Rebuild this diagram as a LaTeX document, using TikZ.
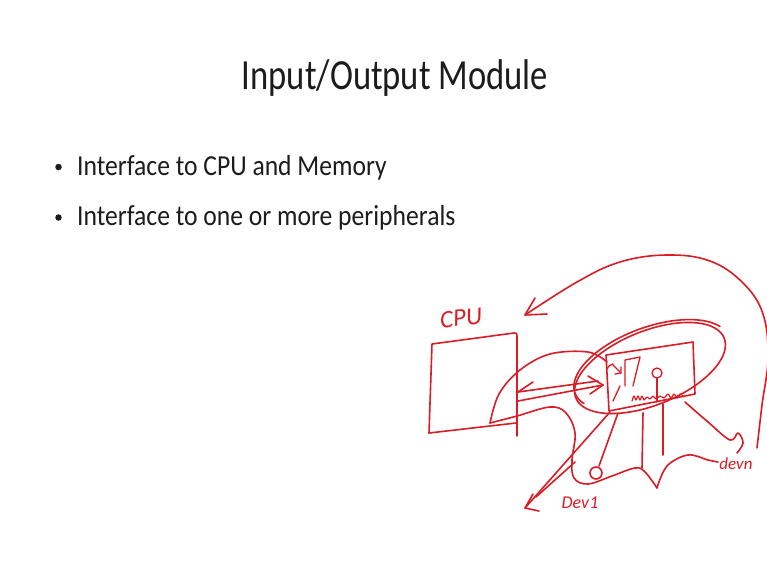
\documentclass[tikz,border=0pt]{standalone}
\usepackage{fontspec}
\setmainfont{Carlito}
\usepackage{graphicx}
\definecolor{inkred}{RGB}{218,28,38}
\definecolor{textgray}{RGB}{28,28,28}
\begin{document}
\begin{tikzpicture}[x=1pt,y=-1pt,
  pen/.style={draw=inkred, line width=1.6pt, line cap=round, line join=round},
  slidetext/.style={text=textgray, inner sep=0pt, anchor=base west},
  bulletdot/.style={fill=textgray, circle, inner sep=0pt, minimum size=6.5pt},
  hand/.style={text=inkred, inner sep=0pt, font=\itshape}]
\useasboundingbox (0,0) rectangle (767,576);
\fill[white] (0,0) rectangle (767,576);
\clip (0,0) rectangle (767,576);

% ---------- slide text ----------
\node[slidetext] (title) at (241.7,89.3) {\fontsize{43}{48}\selectfont\scalebox{0.805}[1]{Input/Output Module}};
\node[bulletdot] (d1) at (58.5,167) {};
\node[slidetext] (b1) at (77,175.3) {\fontsize{29}{34}\selectfont\scalebox{0.883}[1]{Interface to CPU and Memory}};
\node[bulletdot] (d2) at (58.5,217.5) {};
\node[slidetext] (b2) at (77,225.8) {\fontsize{29}{34}\selectfont\scalebox{0.883}[1]{Interface to one or more peripherals}};

% ---------- CPU ----------
\node[hand, rotate=6] (cpulabel) at (461,318) {\fontsize{25}{28}\selectfont CPU};
\coordinate (cpuTL) at (432,344);
\coordinate (cpuTR) at (514,333);
\coordinate (cpuBR) at (517,436);
\coordinate (cpuBL) at (429,433);
\draw[pen] (cpuBL) -- (cpuTL) -- (cpuTR) .. controls (517,333) .. (517,340) -- (cpuBR);
\draw[pen] (cpuBL) -- (516,423);

% ---------- module (ellipse + box) ----------
\draw[pen] plot[domain=0:360, samples=72, smooth]
  ({650+80*cos(\x)*cos(22)-37*sin(\x)*sin(22)}, {368-80*cos(\x)*sin(22)-37*sin(\x)*cos(22)});
\draw[pen] plot[domain=20:200, samples=40, smooth]
  ({652+82*cos(\x)*cos(20)-38*sin(\x)*sin(20)}, {365-82*cos(\x)*sin(20)-38*sin(\x)*cos(20)});
\coordinate (modTL) at (606,355);
\coordinate (modTR) at (693,342);
\coordinate (modBR) at (695,394);
\coordinate (modBL) at (609,411);
\draw[pen] (modBL) -- (modTL) -- (modTR) -- (modBR) -- (modBL);

% scribbles inside the module
\draw[pen, line width=1.3pt] (607,369) .. controls (609,364) and (611,366) .. (613,364);
\draw[pen, line width=1.3pt] (612,364) -- (621,373);
\draw[pen, line width=1.3pt] (615,374) -- (621,373) -- (621,367);
\draw[pen, line width=1.3pt] (625,386) -- (625,360) -- (640,357) -- (633,386);
\draw[pen, line width=1.3pt] (620,386) -- (613,401);
\draw[pen, line width=1.3pt] (657,373) circle (5);
\draw[pen, line width=1.3pt] (657,378) -- (657,402);
\draw[pen, line width=1.2pt] plot[smooth, tension=0.6] coordinates
  {(632,401) (634,396) (636,400) (638,396) (640,400) (642,396) (644,400) (647,397) (650,399) (653,396) (656,399) (660,396) (664,398) (668,394) (671,398) (674,394) (677,398) (680,394) (684,397)};

% ---------- CPU <-> module arrows ----------
\coordinate (aL) at (518,392);
\coordinate (aR) at (598,381);
\draw[pen] (aL) -- (aR);
\draw[pen] (aL) -- (533,382);
\coordinate (bL) at (518,401);
\coordinate (bR) at (603,385);
\draw[pen] (bL) -- (bR);
\draw[pen] (588,376) -- (bR) -- (590,394);

% loop from CPU to module
\draw[pen] plot[smooth, tension=0.6] coordinates
  {(490,423) (499,394) (520,370) (550,354) (588,352) (607,362)};

% ---------- big return arrow ----------
\coordinate (arcTip) at (525,315);
\draw[pen] plot[smooth, tension=0.65] coordinates
  {(757,448) (762,405) (768,358) (763,314) (743,283) (710,261) (667,255) (620,262) (577,282) (525,315)};
\draw[pen] (535,298) -- (arcTip) -- (547,314);

% ---------- peripherals bag ----------
\draw[pen] plot[smooth, tension=0.6] coordinates
  {(490,423) (517,416) (550,407) (566,413) (575,433) (572,460) (574,478) (588,484) (612,476) (635,468) (645,472) (657,488)};
\draw[pen] plot[smooth, tension=0.6] coordinates
  {(657,488) (667,466) (688,455) (708,460) (718,462)};

% lines down from the module
\coordinate (outTip) at (525,508);
\draw[pen] (610,412) -- (outTip);
\draw[pen] (533,494) -- (outTip) -- (539,511);
\draw[pen] (575,462) -- (536,497);
\coordinate (dev1) at (596,473);
\draw[pen] (618,413) -- (599,466);
\draw[pen] (dev1) circle (6);
\draw[pen] (643,413) -- (642,468);
\draw[pen] (663,404) -- (663,455);
\draw[pen] plot[smooth, tension=0.6] coordinates
  {(685,402) (708,422) (730,440) (738,433) (743,443) (737,453)};

% ---------- device labels ----------
\node[hand] (dev1label) at (580,503) {\fontsize{18}{20}\selectfont Dev1};
\node[hand] (devnlabel) at (736,464) {\fontsize{17}{20}\selectfont devn};
\end{tikzpicture}
\end{document}
